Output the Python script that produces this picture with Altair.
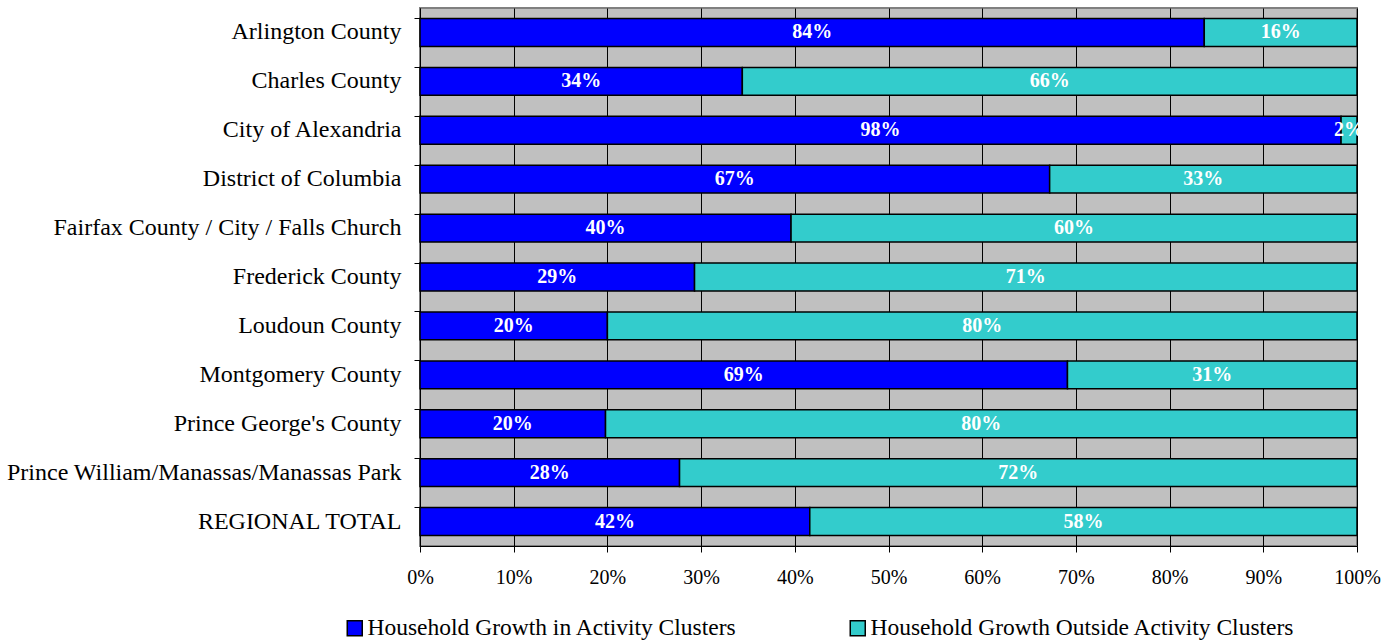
import altair as alt
import pandas as pd

# Household growth by jurisdiction, split by location relative to activity clusters
areas = [
    "Arlington County",
    "Charles County",
    "City of Alexandria",
    "District of Columbia",
    "Fairfax County / City / Falls Church",
    "Frederick County",
    "Loudoun County",
    "Montgomery County",
    "Prince George's County",
    "Prince William/Manassas/Manassas Park",
    "REGIONAL TOTAL",
]
in_clusters = [0.837, 0.344, 0.983, 0.672, 0.396, 0.293, 0.200, 0.691, 0.198, 0.277, 0.416]
outside_clusters = [0.163, 0.656, 0.017, 0.328, 0.604, 0.707, 0.800, 0.309, 0.802, 0.723, 0.584]
series = ["Household Growth in Activity Clusters", "Household Growth Outside Activity Clusters"]
colors = ["#0000FF", "#33CCCC"]
x_ticks = [0, 0.1, 0.2, 0.3, 0.4, 0.5, 0.6, 0.7, 0.8, 0.9, 1.0]

rows = []
for i, area in enumerate(areas):
    rows.append({"area": area, "series": series[0], "share": in_clusters[i], "rank": 0})
    rows.append({"area": area, "series": series[1], "share": outside_clusters[i], "rank": 1})
df = pd.DataFrame(rows)

FONT = "Liberation Serif"
PLOT_W, PLOT_H = 937, 538

y_enc = alt.Y(
    "area:N",
    sort=areas,
    title=None,
    scale=alt.Scale(paddingInner=0.43, paddingOuter=0.215),
    axis=alt.Axis(
        bandPosition=0,
        labelFont=FONT,
        labelFontSize=24,
        labelColor="black",
        labelPadding=13,
        labelLimit=420,
        domainColor="black",
        domainWidth=1,
        tickColor="black",
        tickSize=6,
        grid=False,
    ),
)

base = (
    alt.Chart(df)
    .transform_stack(
        stack="share",
        groupby=["area"],
        as_=["start", "end"],
        sort=[alt.SortField("rank", order="ascending")],
    )
    .transform_calculate(mid="(datum.start + datum.end) / 2")
)

bars = base.mark_bar(stroke="black", strokeWidth=1.5).encode(
    y=y_enc,
    x=alt.X(
        "start:Q",
        title=None,
        scale=alt.Scale(domain=[0, 1], nice=False),
        axis=alt.Axis(
            values=x_ticks,
            format=".0%",
            labelFont=FONT,
            labelFontSize=20,
            labelColor="black",
            labelPadding=15,
            labelFlush=False,
            domainColor="black",
            tickColor="black",
            tickSize=6,
            grid=True,
            gridColor="black",
            gridWidth=1,
            gridOpacity=1,
        ),
    ),
    x2="end:Q",
    color=alt.Color(
        "series:N",
        scale=alt.Scale(domain=series, range=colors),
        legend=alt.Legend(
            title=None,
            orient="none",
            direction="horizontal",
            legendX=-77,
            legendY=608,
            symbolType="square",
            symbolSize=225,
            symbolStrokeColor="black",
            symbolStrokeWidth=1.5,
            symbolOpacity=1,
            labelFont=FONT,
            labelFontSize=23.5,
            labelColor="black",
            labelOffset=1,
            labelLimit=600,
            columnPadding=109,
        ),
    ),
    order=alt.Order("rank:Q"),
)

labels = base.mark_text(
    color="white", font=FONT, fontWeight="bold", fontSize=20, baseline="middle"
).encode(
    y=alt.Y("area:N", sort=areas),
    x=alt.X("mid:Q"),
    text=alt.Text("share:Q", format=".0%"),
)

chart = (
    alt.layer(bars, labels)
    .properties(
        width=PLOT_W,
        height=PLOT_H,
        autosize=alt.AutoSizeParams(type="none"),
        padding={"left": 420, "top": 8, "right": 37, "bottom": 95},
    )
    .configure(background="white")
    .configure_view(fill="#C0C0C0", stroke="#808080", strokeWidth=2)
)

chart.save("out.html", embed_options={"renderer": "svg", "actions": False})
